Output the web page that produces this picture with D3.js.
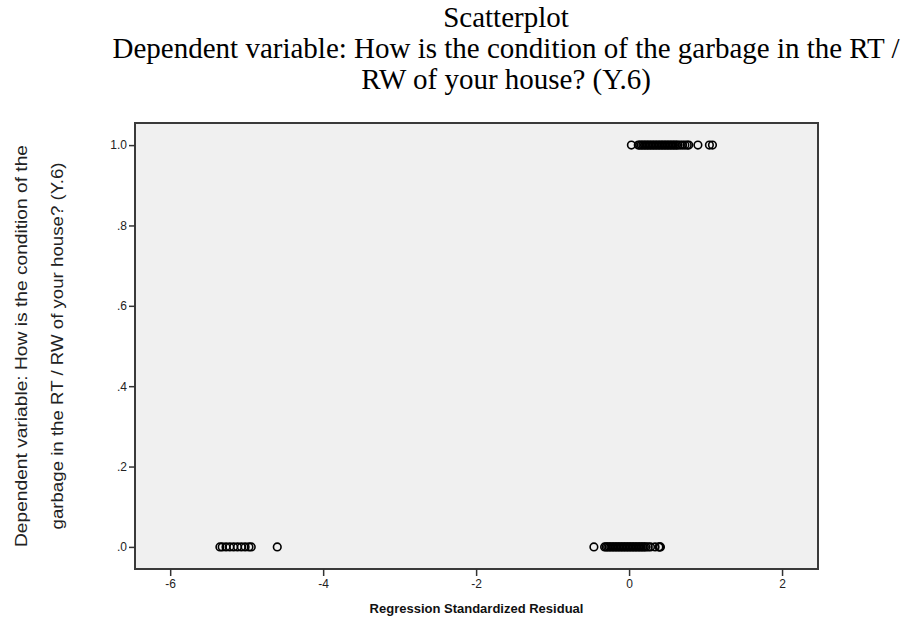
<!DOCTYPE html>
<html>
<head>
<meta charset="utf-8">
<script src="https://cdn.jsdelivr.net/npm/d3@7/dist/d3.min.js"></script>
<style>
  html, body { margin: 0; padding: 0; background: #ffffff; }
  svg { display: block; }
</style>
</head>
<body>
<svg id="chart" width="910" height="626"></svg>
<script>
// ---- data ----
const titleLines = [
  "Scatterplot",
  "Dependent variable: How is the condition of the garbage in the RT /",
  "RW of your house? (Y.6)"
];
const xLabel = "Regression Standardized Residual";
const yLabelLines = [
  "Dependent variable: How is the condition of the",
  "garbage in the RT / RW of your house? (Y.6)"
];
const xTicks = [-6, -4, -2, 0, 2];
const xTickLabels = ["-6", "-4", "-2", "0", "2"];
const yTicks = [0, 0.2, 0.4, 0.6, 0.8, 1.0];
const yTickLabels = [".0", ".2", ".4", ".6", ".8", "1.0"];

// residuals for observations with Y = 1
const residualsY1 = [0.03, 0.12, 0.14, 0.16, 0.18, 0.20, 0.22, 0.24, 0.26, 0.28,
  0.30, 0.32, 0.34, 0.36, 0.38, 0.40, 0.42, 0.44, 0.46, 0.48, 0.50, 0.52,
  0.54, 0.56, 0.58, 0.60, 0.62, 0.64, 0.67, 0.70, 0.73, 0.76, 0.78,
  0.90, 1.05, 1.09];
// residuals for observations with Y = 0 (outlier group)
const residualsY0Low = [-5.35, -5.32, -5.27, -5.22, -5.17, -5.12, -5.07, -5.02,
  -4.97, -4.94, -4.60];
// residuals for observations with Y = 0 (main group)
const residualsY0Main = [-0.46, -0.32, -0.30, -0.28, -0.26, -0.24, -0.22, -0.20,
  -0.18, -0.16, -0.14, -0.12, -0.10, -0.08, -0.06, -0.04, -0.02, 0.00, 0.02,
  0.04, 0.06, 0.08, 0.10, 0.12, 0.14, 0.16, 0.18, 0.20, 0.22, 0.25, 0.28,
  0.34, 0.39, 0.40, 0.41];

const xDomain = [-6.46, 2.47];
const yDomain = [-0.055, 1.055];

// ---- layout ----
const plot = { left: 135, right: 818, top: 123, bottom: 569 };
const svg = d3.select("#chart");

const x = d3.scaleLinear().domain(xDomain).range([plot.left, plot.right]);
const y = d3.scaleLinear().domain(yDomain).range([plot.bottom, plot.top]);

// title
svg.append("g").selectAll("text").data(titleLines).join("text")
  .attr("x", 506)
  .attr("y", (d, i) => 27 + i * 31)
  .attr("text-anchor", "middle")
  .style("font-family", "'Liberation Serif', 'Times New Roman', serif")
  .style("font-size", "29px")
  .style("fill", "#000")
  .text(d => d);

// plot background
svg.append("rect")
  .attr("x", plot.left).attr("y", plot.top)
  .attr("width", plot.right - plot.left).attr("height", plot.bottom - plot.top)
  .attr("fill", "#f0f0f0");

// points
const points = []
  .concat(residualsY1.map(v => ({ x: v, y: 1 })))
  .concat(residualsY0Low.map(v => ({ x: v, y: 0 })))
  .concat(residualsY0Main.map(v => ({ x: v, y: 0 })));

svg.append("g").selectAll("circle").data(points).join("circle")
  .attr("cx", d => x(d.x))
  .attr("cy", d => y(d.y))
  .attr("r", 3.8)
  .attr("fill", "none")
  .attr("stroke", "#000")
  .attr("stroke-width", 1.6);

// frame
svg.append("rect")
  .attr("x", plot.left).attr("y", plot.top)
  .attr("width", plot.right - plot.left).attr("height", plot.bottom - plot.top)
  .attr("fill", "none")
  .attr("stroke", "#3a3a3a")
  .attr("stroke-width", 2);

// x axis
const xAxis = d3.axisBottom(x)
  .tickValues(xTicks)
  .tickFormat((d, i) => xTickLabels[i])
  .tickSize(7)
  .tickSizeOuter(0);
const gx = svg.append("g")
  .attr("transform", `translate(0,${plot.bottom})`)
  .call(xAxis);
gx.select(".domain").remove();
gx.selectAll(".tick line").attr("stroke", "#333").attr("stroke-width", 1.5);
gx.selectAll(".tick text")
  .attr("dy", "0.71em").attr("y", 10)
  .style("font-family", "'Liberation Sans', Arial, sans-serif")
  .style("font-size", "12px")
  .style("fill", "#222");

// y axis
const yAxis = d3.axisLeft(y)
  .tickValues(yTicks)
  .tickFormat((d, i) => yTickLabels[i])
  .tickSize(6)
  .tickSizeOuter(0);
const gy = svg.append("g")
  .attr("transform", `translate(${plot.left},0)`)
  .call(yAxis);
gy.select(".domain").remove();
gy.selectAll(".tick line").attr("stroke", "#333").attr("stroke-width", 1.5);
gy.selectAll(".tick text")
  .attr("x", -8)
  .style("font-family", "'Liberation Sans', Arial, sans-serif")
  .style("font-size", "12px")
  .style("fill", "#222");

// x label
svg.append("text")
  .attr("x", (plot.left + plot.right) / 2).attr("y", 613)
  .attr("text-anchor", "middle")
  .style("font-family", "'Liberation Sans', Arial, sans-serif")
  .style("font-size", "13px")
  .style("font-weight", "bold")
  .style("fill", "#111")
  .text(xLabel);

// y label (two lines, rotated)
const cy = (plot.top + plot.bottom) / 2;
const yLabLens = [402, 367];
const yLabX = [27, 63];
yLabelLines.forEach((line, i) => {
  svg.append("text")
    .attr("transform", `translate(${yLabX[i]},${cy}) rotate(-90)`)
    .attr("text-anchor", "middle")
    .attr("textLength", yLabLens[i])
    .attr("lengthAdjust", "spacingAndGlyphs")
    .style("font-family", "'Liberation Sans', Arial, sans-serif")
    .style("font-size", "17px")
    .style("fill", "#222")
    .text(line);
});
</script>
</body>
</html>
